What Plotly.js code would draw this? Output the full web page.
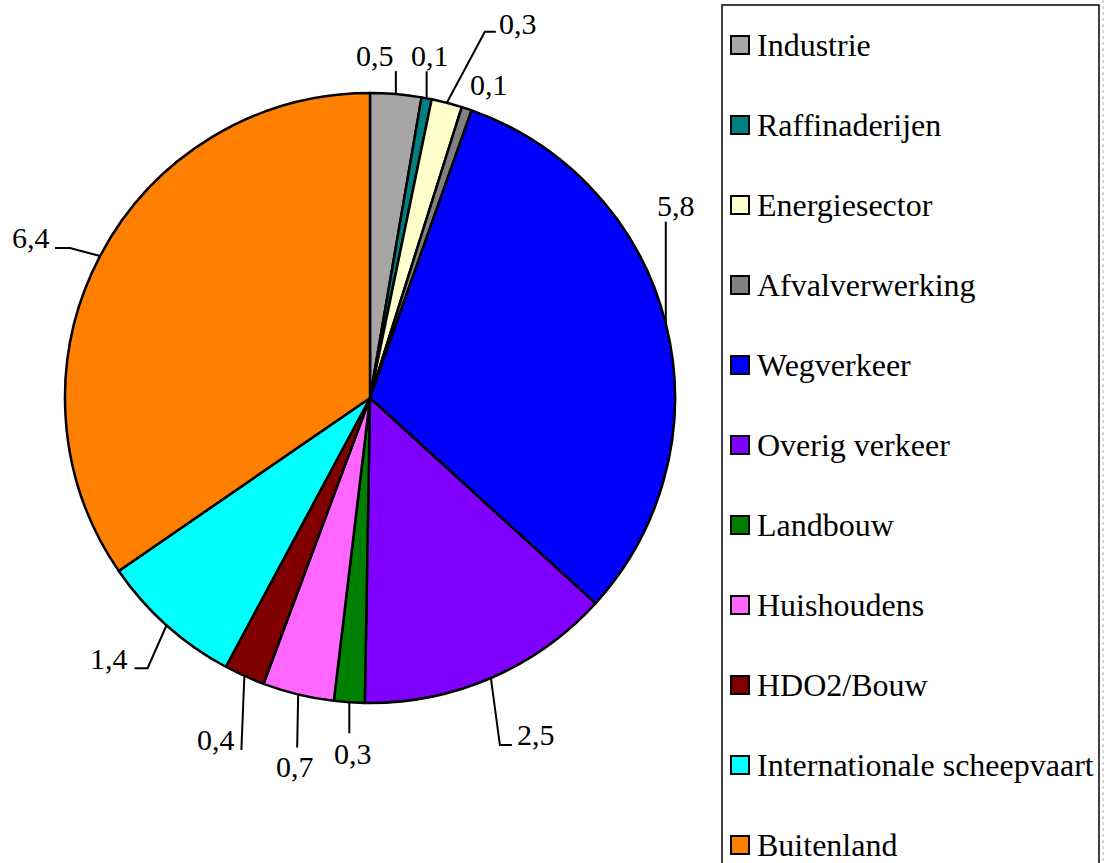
<!DOCTYPE html>
<html><head><meta charset="utf-8">
<script src="https://cdn.plot.ly/plotly-3.0.1.min.js"></script>
<style>html,body{margin:0;padding:0;background:#fff;overflow:hidden}#chart{width:1104px;height:863px;}</style>
</head><body><div id="chart"></div>
<script>
// ---- data ----
const categories = ["Industrie","Raffinaderijen","Energiesector","Afvalverwerking","Wegverkeer","Overig verkeer","Landbouw","Huishoudens","HDO2/Bouw","Internationale scheepvaart","Buitenland"];
const values = [0.5,0.1,0.3,0.1,5.8,2.5,0.3,0.7,0.4,1.4,6.4];
const colors = ["#A6A6A6","#008080","#FFFFCC","#808080","#0000FF","#8000FF","#008000","#FF66FF","#800000","#00FFFF","#FF8000"];
const valueLabels = values.map(v => v.toFixed(1).replace('.', ','));

// ---- layout / style ----
const W = 1104, H = 863;
const CX = 370, CY = 398, R = 305;
const FONT = "Liberation Serif";
// leader-line offsets (px, relative to slice mid-point on rim) and label offsets
const leaders = [
  {line:[[0,-23]], text:[-21,-39]},
  {line:[[0,-27]], text:[3,-43]},
  {line:[[38,-71],[49,-71]], text:[71,-79]},
  {line:[], text:[22,-24]},
  {line:[[0,-102]], text:[10,-118]},
  {line:[[9,67],[21,67]], text:[45,56]},
  {line:[[0,31]], text:[4,51]},
  {line:[[-1,53]], text:[-3,72]},
  {line:[[-3,74]], text:[-28,64]},
  {line:[[-19,43],[-32,43]], text:[-58,33]},
  {line:[[-30,-8],[-45,-8]], text:[-69,-19]}
];
const px = x => x / W, py = y => 1 - y / H;

const total = values.reduce((a,b)=>a+b,0);
const annotations = [], shapes = [];
let cum = 0;
values.forEach((v,i) => {
  const th = 2*Math.PI*(cum + v/2)/total;
  cum += v;
  const ax = CX + R*Math.sin(th), ay = CY - R*Math.cos(th);
  const L = leaders[i];
  if (L.line.length) {
    let d = `M ${px(ax)} ${py(ay)}`;
    L.line.forEach(p => { d += ` L ${px(ax+p[0])} ${py(ay+p[1])}`; });
    shapes.push({type:'path', xref:'paper', yref:'paper', path:d, line:{color:'#000', width:2}});
  }
  annotations.push({xref:'paper', yref:'paper', x:px(ax+L.text[0]), y:py(ay+L.text[1]),
    xanchor:'center', yanchor:'middle', showarrow:false, text:valueLabels[i],
    font:{family:FONT, size:30, color:'#000'}});
});

// manual legend
const LEG = {x0:722, y0:5, x1:1099, y1:875, sw:18, sx:731, tx:755, top:45, step:80};
shapes.push({type:'rect', xref:'paper', yref:'paper', x0:px(LEG.x0), x1:px(LEG.x1), y0:py(LEG.y0), y1:py(LEG.y1), line:{color:'#000', width:1.5}, fillcolor:'rgba(0,0,0,0)'});
shapes.push({type:'line', xref:'paper', yref:'paper', x0:px(1103), x1:px(1103), y0:py(0), y1:py(H), line:{color:'#aaa', width:1, dash:'dot'}});
categories.forEach((c,i) => {
  const yc = LEG.top + i*LEG.step;
  shapes.push({type:'rect', xref:'paper', yref:'paper', x0:px(LEG.sx), x1:px(LEG.sx+LEG.sw), y0:py(yc-LEG.sw/2), y1:py(yc+LEG.sw/2), line:{color:'#000', width:2}, fillcolor:colors[i]});
  annotations.push({xref:'paper', yref:'paper', x:px(LEG.tx), y:py(yc), xanchor:'left', yanchor:'middle', showarrow:false, text:c, font:{family:FONT, size:32, color:'#000'}});
});

const trace = {
  type:'pie', values:values, labels:categories, sort:false, direction:'clockwise', rotation:0,
  marker:{colors:colors, line:{color:'#000', width:2.5}}, textinfo:'none', hoverinfo:'label+value',
  domain:{x:[px(CX-R), px(CX+R)], y:[py(CY+R), py(CY-R)]}
};
const layout = {width:W, height:H, margin:{l:0,r:0,t:0,b:0}, showlegend:false,
  font:{family:FONT},
  paper_bgcolor:'#fff', plot_bgcolor:'#fff', annotations:annotations, shapes:shapes};
Plotly.newPlot('chart', [trace], layout, {displayModeBar:false, staticPlot:true});
</script></body></html>
